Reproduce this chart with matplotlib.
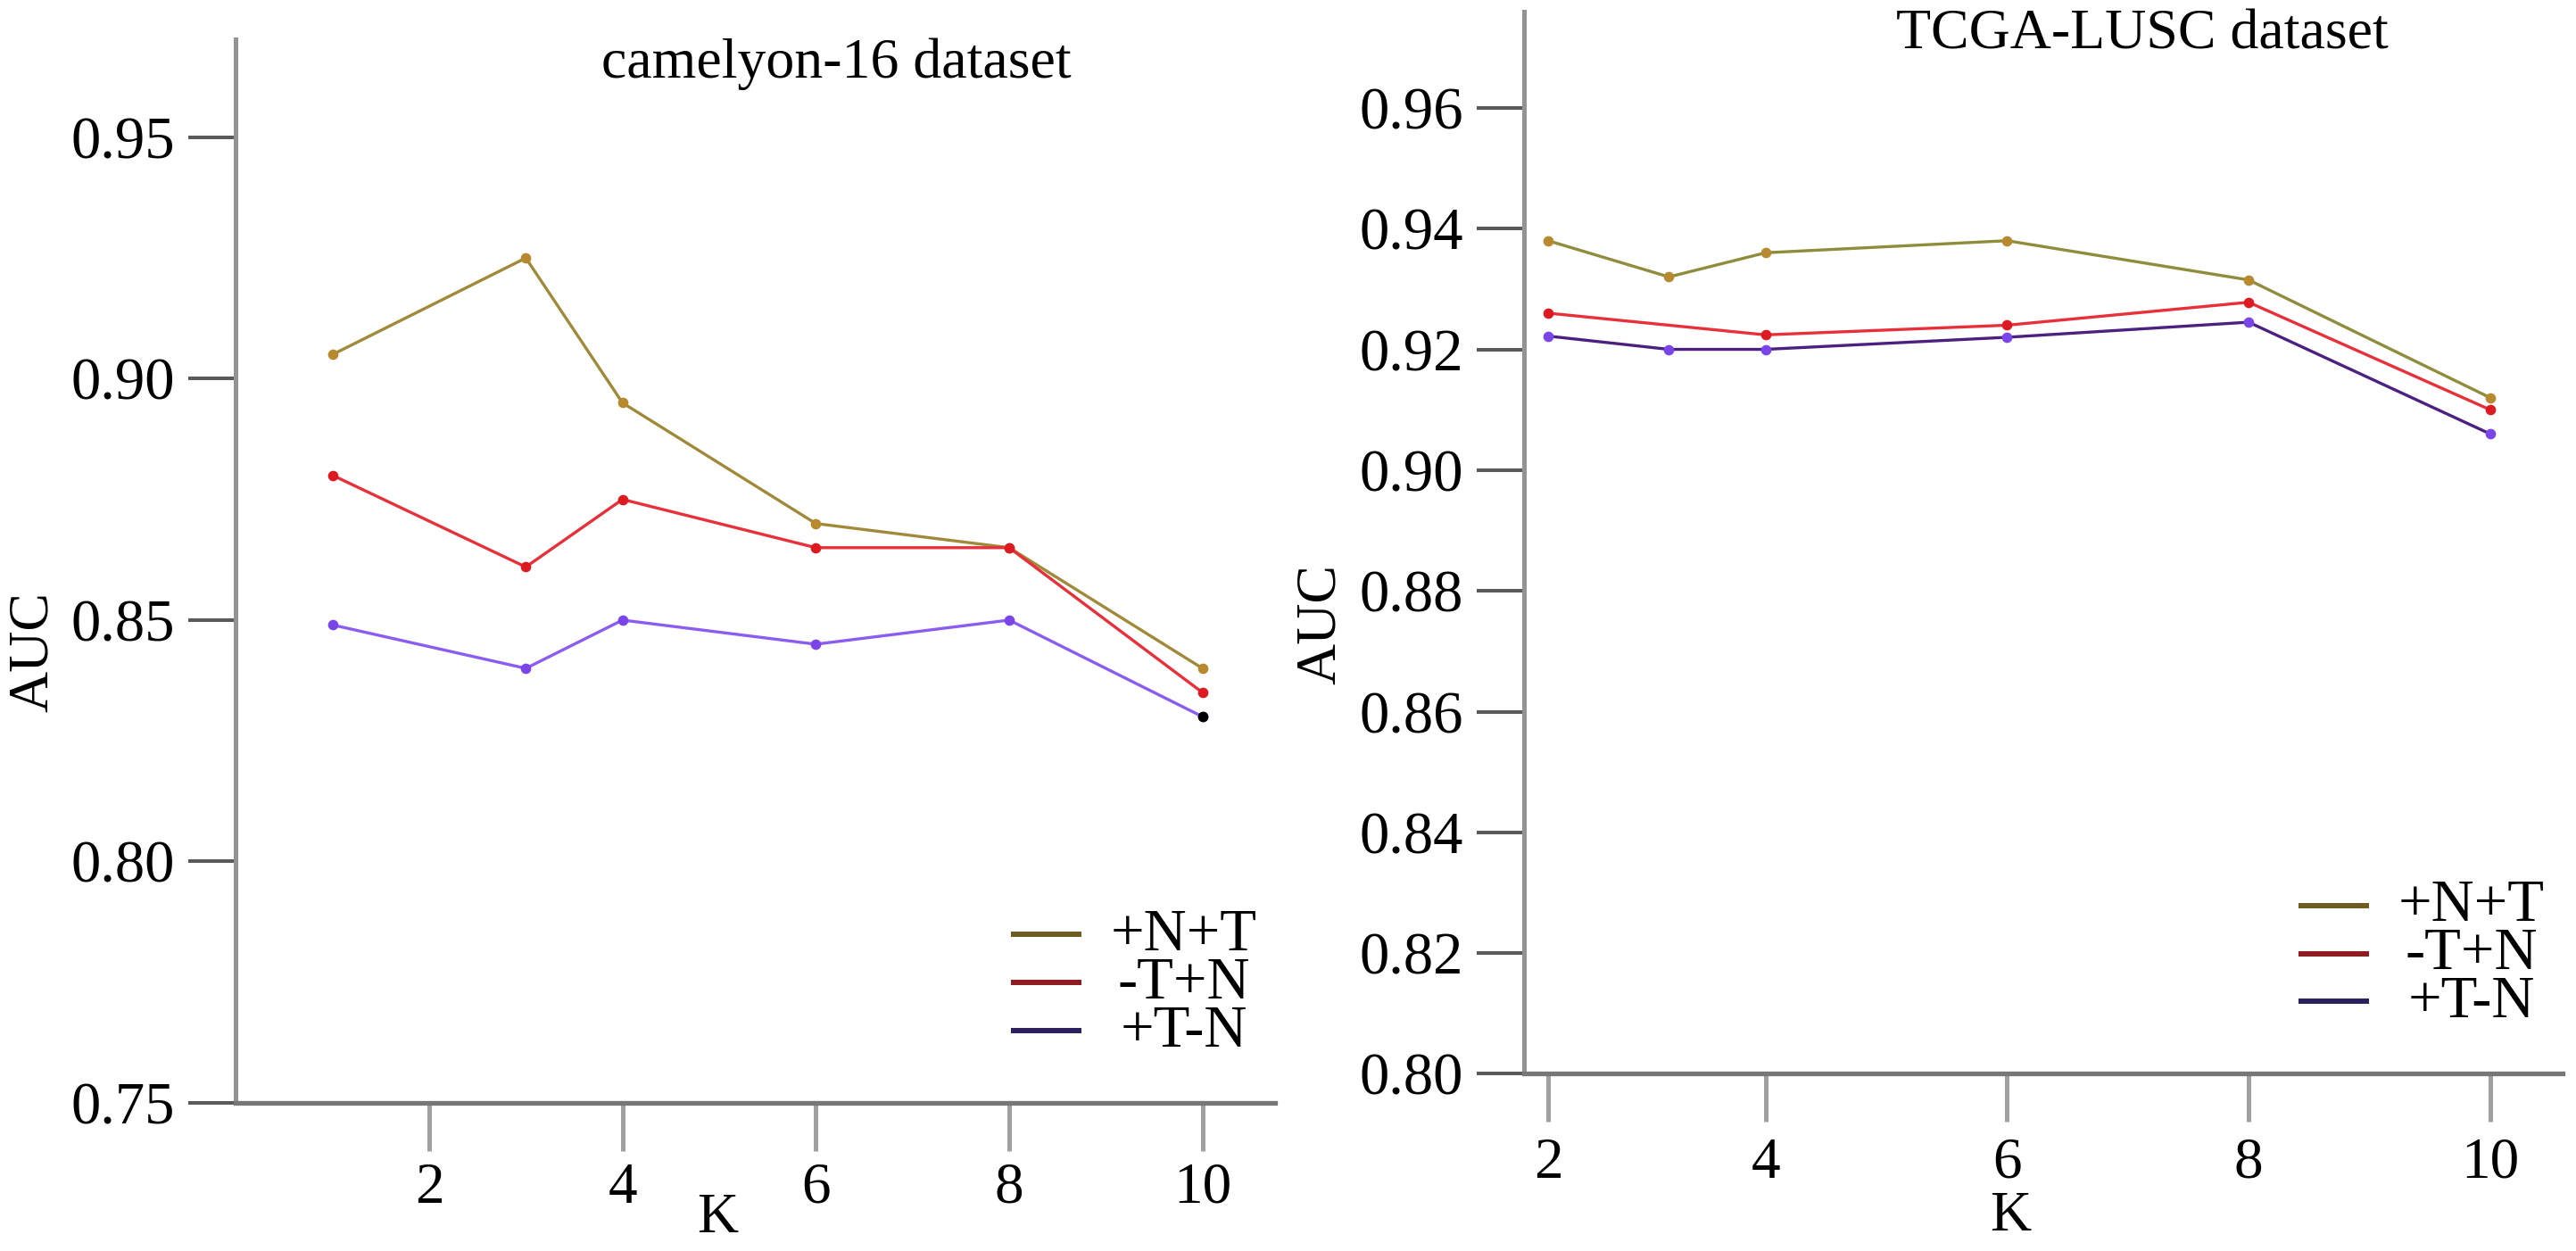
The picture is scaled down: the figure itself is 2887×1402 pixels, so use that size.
import matplotlib
matplotlib.use('Agg')
import matplotlib.pyplot as plt
from matplotlib.ticker import FormatStrFormatter

plt.rcParams['font.family'] = ['Liberation Serif', 'DejaVu Serif']

# ---------------- data ----------------
series_names = ['+N+T', '-T+N', '+T-N']

# camelyon-16
K_cam = [1, 3, 4, 6, 8, 10]
cam_NT = [0.905, 0.925, 0.895, 0.870, 0.865, 0.840]
cam_TN = [0.880, 0.861, 0.875, 0.865, 0.865, 0.835]
cam_TmN = [0.849, 0.840, 0.850, 0.845, 0.850, 0.830]
cam_yticks = [0.75, 0.80, 0.85, 0.90, 0.95]
cam_xticks = [2, 4, 6, 8, 10]
cam_xticklabels = ['2', '4', '6', '8', '10']

# TCGA-LUSC
K_lusc = [2.2, 3.2, 4, 6, 8, 10]
K_lusc_red = [2.2, 4, 6, 8, 10]
lusc_NT = [0.938, 0.932, 0.936, 0.938, 0.9315, 0.912]
lusc_TN = [0.926, 0.9224, 0.924, 0.9278, 0.910]
lusc_TmN = [0.9222, 0.920, 0.920, 0.922, 0.9245, 0.906]
lusc_yticks = [0.80, 0.82, 0.84, 0.86, 0.88, 0.90, 0.92, 0.94, 0.96]
lusc_xticks = [2.2, 4, 6, 8, 10]
lusc_xticklabels = ['2', '4', '6', '8', '10']

FS = 46
FS_Y = 48
FS_X = 47
FS_LEG = 48

fig = plt.figure(figsize=(28.87, 14.02), dpi=100)
ax1 = fig.add_axes([0.09155, 0.1184, 0.4034, 0.8502])
ax2 = fig.add_axes([0.5916, 0.1416, 0.4032, 0.8494])


def style(ax, xlim, ylim, xticks, xticklabels, yticks, xpad):
    ax.set_xlim(*xlim)
    ax.set_ylim(*ylim)
    ax.spines['top'].set_visible(False)
    ax.spines['right'].set_visible(False)
    ax.spines['left'].set_color('#939393')
    ax.spines['left'].set_linewidth(3.6)
    ax.spines['bottom'].set_color('#777777')
    ax.spines['bottom'].set_linewidth(3.8)
    ax.set_xticks(xticks)
    ax.set_xticklabels(xticklabels)
    ax.set_yticks(yticks)
    ax.yaxis.set_major_formatter(FormatStrFormatter('%.2f'))
    ax.tick_params(axis='y', direction='out', length=38, width=2.9,
                   color='#5a5a5a', labelsize=FS_Y, pad=11)
    ax.tick_params(axis='x', direction='out', length=39, width=3.6,
                   color='#a0a0a0', labelsize=FS_X, pad=xpad)
    ax.set_facecolor('white')


def legend(ax, colors):
    rows = [0.1586, 0.1133, 0.0680]
    for name, c, y in zip(series_names, colors, rows):
        ax.plot([0.746, 0.814], [y, y], transform=ax.transAxes, color=c,
                lw=4.3, clip_on=False, solid_capstyle='butt')
        ax.text(0.912, y - 0.0150, name, transform=ax.transAxes,
                ha='center', va='baseline', fontsize=FS_LEG)


c_gold_mk = '#b8892e'
c_red_line = '#e8303a'
c_red_mk = '#dd1a22'
c_pur_line = '#8a5cf0'
c_pur_mk = '#7a45e8'

ms = 7.4
lw = 2.4

# ---------- left panel ----------
ax1.plot(K_cam, cam_NT, '-', color='#a08a3a', lw=lw, marker='o', ms=ms,
         mfc=c_gold_mk, mec=c_gold_mk)
ax1.plot(K_cam, cam_TN, '-', color=c_red_line, lw=lw, marker='o', ms=ms,
         mfc=c_red_mk, mec=c_red_mk)
ax1.plot(K_cam, cam_TmN, '-', color=c_pur_line, lw=lw, marker='o', ms=ms,
         mfc=c_pur_mk, mec=c_pur_mk)
ax1.plot(K_cam[-1:], cam_TmN[-1:], 'o', color='black', ms=ms)
style(ax1, (0, 10.75), (0.75, 0.9703), cam_xticks, cam_xticklabels,
      cam_yticks, 8.6)
ax1.text(0.578, 0.977, 'camelyon-16 dataset', transform=ax1.transAxes,
         ha='center', va='center', fontsize=FS)
ax1.text(-0.194, 0.4245, 'AUC', transform=ax1.transAxes, rotation=90,
         ha='center', va='center', fontsize=FS)
ax1.text(0.4634, -0.109, 'K', transform=ax1.transAxes,
         ha='center', va='center', fontsize=FS)
legend(ax1, ['#6e5c1e', '#8e1c20', '#2c2060'])

# ---------- right panel ----------
ax2.plot(K_lusc, lusc_NT, '-', color='#8f8c3c', lw=lw, marker='o', ms=ms,
         mfc=c_gold_mk, mec=c_gold_mk)
ax2.plot(K_lusc_red, lusc_TN, '-', color=c_red_line, lw=lw, marker='o', ms=ms,
         mfc=c_red_mk, mec=c_red_mk)
ax2.plot(K_lusc, lusc_TmN, '-', color='#4b2080', lw=lw, marker='o', ms=ms,
         mfc=c_pur_mk, mec=c_pur_mk)
style(ax2, (2.0, 10.6), (0.80, 0.976), lusc_xticks, lusc_xticklabels,
      lusc_yticks, 12)
ax2.text(0.595, 0.9775, 'TCGA-LUSC dataset', transform=ax2.transAxes,
         ha='center', va='center', fontsize=FS)
ax2.text(-0.195, 0.4228, 'AUC', transform=ax2.transAxes, rotation=90,
         ha='center', va='center', fontsize=FS)
ax2.text(0.468, -0.1348, 'K', transform=ax2.transAxes,
         ha='center', va='center', fontsize=FS)
legend(ax2, ['#6e5c1e', '#8e1c20', '#2c2060'])

fig.savefig('out.png', dpi=100, facecolor='white')
